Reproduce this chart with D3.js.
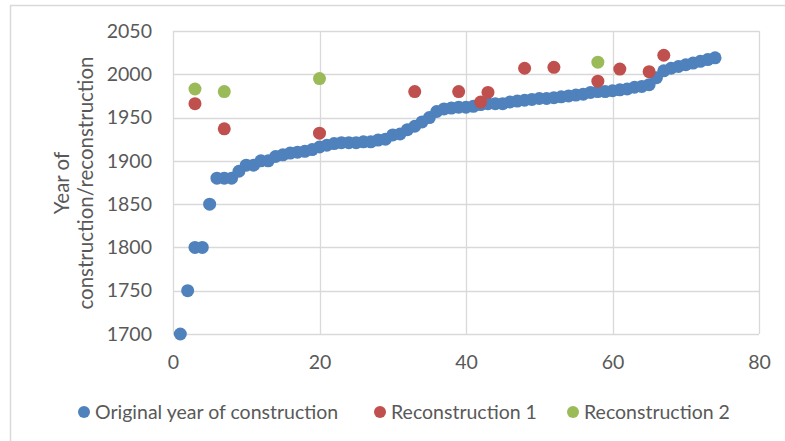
<!DOCTYPE html>
<html><head><meta charset="utf-8">
<script src="https://cdn.jsdelivr.net/npm/d3@7"></script>
<style>
html,body{margin:0;padding:0;background:#fff;}
svg{display:block;}
</style></head>
<body>
<svg id="chart" width="785" height="441"></svg>
<script>
const originalYears = [1700,1750,1800,1800,1850,1880,1880,1880,1888,1895,1895,1900,1900,1905,1907,1909,1910,1911,1913,1916,1918,1920,1921,1921,1921,1922,1922,1924,1925,1930,1931,1936,1940,1945,1950,1957,1960,1961,1962,1962,1963,1965,1966,1966,1966,1968,1969,1970,1971,1972,1972,1973,1974,1975,1976,1977,1979,1980,1980,1981,1982,1983,1985,1986,1988,1996,2004,2007,2009,2011,2013,2015,2017,2019];
const recon1X = [3,7,20,33,39,42,43,48,52,58,61,65,67];
const recon1Y = [1966,1937,1932,1980,1980,1968,1979,2007,2008,1992,2006,2003,2022];
const recon2X = [3,7,20,58];
const recon2Y = [1983,1980,1995,2014];
const xTicks = [0,20,40,60,80];
const yTicks = [1700,1750,1800,1850,1900,1950,2000,2050];
const seriesNames = ["Original year of construction","Reconstruction 1","Reconstruction 2"];
const colors = ["#4f81bd","#c0504d","#9bbb59"];

const svg = d3.select("#chart");
const font = "Lato, 'Open Sans', sans-serif";
const x = d3.scaleLinear().domain([0,80]).range([173,759]);
const y = d3.scaleLinear().domain([1700,2050]).range([334,31]);

// outer chart border
svg.append("rect").attr("x",10.5).attr("y",5.5).attr("width",800).attr("height",460)
  .attr("fill","#fff").attr("stroke","#d9d9d9").attr("stroke-width",1.5);

// gridlines
svg.append("g").selectAll("line").data(yTicks).join("line")
  .attr("x1",x(0)).attr("x2",x(80)).attr("y1",d=>Math.round(y(d))+0.5).attr("y2",d=>Math.round(y(d))+0.5)
  .attr("stroke","#d9d9d9").attr("stroke-width",1.3);
svg.append("g").selectAll("line").data(xTicks).join("line")
  .attr("y1",y(1700)).attr("y2",y(2050)).attr("x1",d=>Math.round(x(d))+0.5).attr("x2",d=>Math.round(x(d))+0.5)
  .attr("stroke","#d9d9d9").attr("stroke-width",1.3);

// axes labels via d3 axes
const xAxis = svg.append("g").attr("transform",`translate(0,${y(1700)})`)
  .call(d3.axisBottom(x).tickValues(xTicks).tickSize(0).tickPadding(21));
const yAxis = svg.append("g").attr("transform",`translate(${x(0)},0)`)
  .call(d3.axisLeft(y).tickValues(yTicks).tickSize(0).tickPadding(21).tickFormat(d3.format("d")));
[xAxis,yAxis].forEach(a=>{
  a.select(".domain").remove();
  a.selectAll("text").attr("fill","#595959").style("font-family",font).style("font-size","19.5px");
});

// y axis title
const yt = svg.append("text").attr("transform","translate(0,183) rotate(-90)")
  .attr("text-anchor","middle").attr("fill","#595959").style("font-family",font).style("font-size","20.5px");
yt.append("tspan").attr("x",0).attr("y",69).text("Year of");
yt.append("tspan").attr("x",0).attr("y",93).text("construction/reconstruction");

// points
const r = 6.5;
svg.append("g").selectAll("circle").data(originalYears).join("circle")
  .attr("cx",(d,i)=>x(i+1)).attr("cy",d=>y(d)).attr("r",r).attr("fill",colors[0]);
svg.append("g").selectAll("circle").data(recon1Y).join("circle")
  .attr("cx",(d,i)=>x(recon1X[i])).attr("cy",d=>y(d)).attr("r",r).attr("fill",colors[1]);
svg.append("g").selectAll("circle").data(recon2Y).join("circle")
  .attr("cx",(d,i)=>x(recon2X[i])).attr("cy",d=>y(d)).attr("r",r).attr("fill",colors[2]);

// legend
const legX = [84,380,573];
const lg = svg.append("g").selectAll("g").data(seriesNames).join("g");
lg.append("circle").attr("cx",(d,i)=>legX[i]).attr("cy",412).attr("r",6).attr("fill",(d,i)=>colors[i]);
lg.append("text").attr("x",(d,i)=>legX[i]+11).attr("y",419).attr("fill","#595959")
  .style("font-family",font).style("font-size","19.5px").text(d=>d);
</script>
</body></html>
